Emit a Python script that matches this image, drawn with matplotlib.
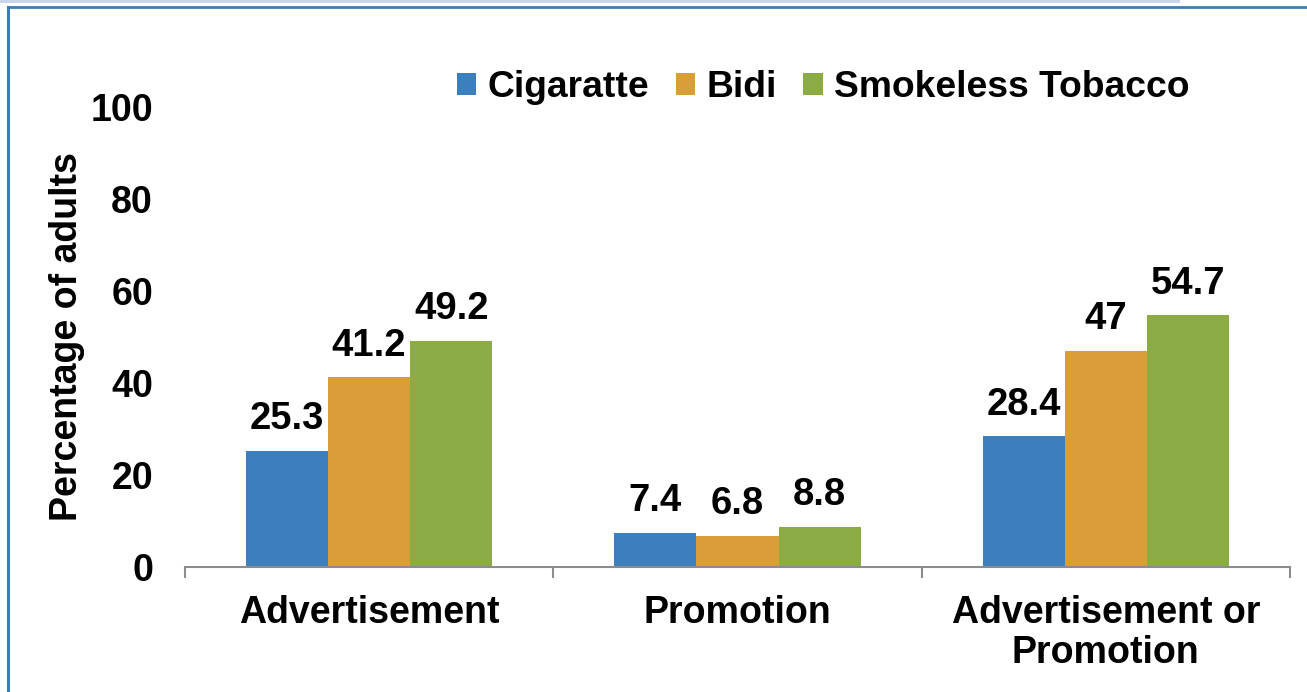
import numpy as np
import matplotlib.pyplot as plt
from matplotlib.patches import Rectangle
from matplotlib.lines import Line2D

plt.rcParams['font.family'] = ['Liberation Sans', 'DejaVu Sans']
plt.rcParams['font.weight'] = 'bold'

categories = ['Advertisement', 'Promotion', 'Advertisement or\nPromotion']
series = ['Cigaratte', 'Bidi', 'Smokeless Tobacco']
cigarette = [25.3, 7.4, 28.4]
bidi = [41.2, 6.8, 47]
smokeless = [49.2, 8.8, 54.7]
value_labels = [['25.3', '7.4', '28.4'], ['41.2', '6.8', '47'], ['49.2', '8.8', '54.7']]
yticks = [0, 20, 40, 60, 80, 100]

colors = ['#3B80BD', '#DA9E39', '#8BAC45']

fig = plt.figure(figsize=(13.07, 6.92), dpi=100)
ax = fig.add_axes([0.1415, 0.1806, 0.9870 - 0.1415, 0.8454 - 0.1806])

x = np.arange(len(categories))
width = 0.223
for i, (vals, col, name) in enumerate(zip([cigarette, bidi, smokeless], colors, series)):
    pos = x + (i - 1) * width
    ax.bar(pos, vals, width, color=col, label=name, edgecolor='none')
    for px, v, txt in zip(pos, vals, value_labels[i]):
        ax.annotate(txt, (px, v), xytext=(0, 15.5), textcoords='offset points',
                    ha='center', va='baseline', fontsize=27.5, fontweight='bold')

ax.set_xlim(-0.5, 2.5)
ax.set_ylim(0, 100)
ax.set_yticks(yticks)
ax.set_yticklabels([str(t) for t in yticks], fontsize=27, fontweight='bold')
ax.tick_params(axis='y', length=0, pad=23)

# category labels at centres, tick marks on the boundaries
ax.set_xticks(x)
ax.set_xticklabels(categories, fontsize=27, fontweight='bold', linespacing=1.15)
ax.set_xticks(np.arange(-0.5, 3.0, 1.0), minor=True)
ax.tick_params(axis='x', which='major', length=0, pad=20)
ax.tick_params(axis='x', which='minor', length=8, width=1.5, color='#8C8C8C', direction='out')

for s in ['top', 'right', 'left']:
    ax.spines[s].set_visible(False)
ax.spines['bottom'].set_color('#8C8C8C')
ax.spines['bottom'].set_linewidth(1.5)

ax.set_ylabel('Percentage of adults', fontsize=27, fontweight='bold', labelpad=4)

leg = ax.legend(loc='center left', bbox_to_anchor=(0.2325, 1.042), ncol=3, frameon=False,
                fontsize=26.8, handlelength=0.52, handleheight=0.52, handletextpad=0.3,
                columnspacing=0.72, borderaxespad=0)
for t in leg.get_texts():
    t.set_fontweight('bold')

# slide frame lines around the chart
W, H = 1307, 692
fig.add_artist(Rectangle((0, 1 - 3 / H), 1180 / W, 3 / H, transform=fig.transFigure,
                         color='#C8D5EA', lw=0))
fig.add_artist(Line2D([8 / W, 1], [1 - 7 / H, 1 - 7 / H], transform=fig.transFigure,
                      color='#3B7DBA', lw=2))
fig.add_artist(Line2D([8 / W, 8 / W], [0, 1 - 7 / H], transform=fig.transFigure,
                      color='#3B7DBA', lw=2.2))

fig.savefig('out.png', dpi=100)
